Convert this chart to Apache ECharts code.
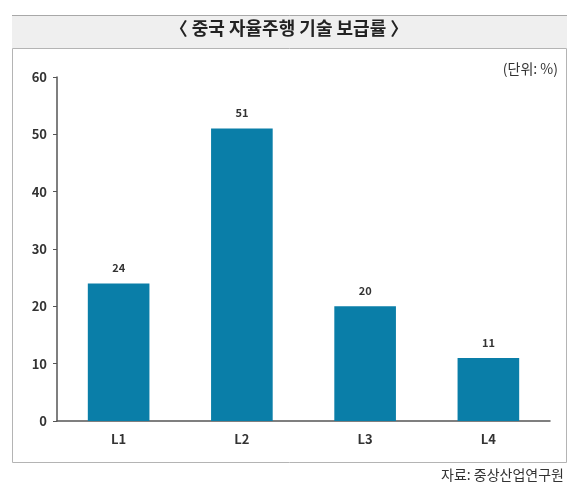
<!DOCTYPE html>
<html>
<head>
<meta charset="utf-8">
<script src="https://cdn.jsdelivr.net/npm/echarts@6/dist/echarts.min.js"></script>
<style>
  html, body { margin: 0; padding: 0; background: #fff; }
  #chart { width: 578px; height: 492px; }
</style>
</head>
<body>
<div id="chart"></div>
<script>
  // 데이터
  var levels = ['L1', 'L2', 'L3', 'L4'];
  var rates = [24, 51, 20, 11];
  var titleText = '〈 중국 자율주행 기술 보급률 〉';
  var unitText = '(단위: %)';
  var sourceText = '자료: 중상산업연구원';

  var font = '"Noto Sans CJK KR", "Noto Sans", sans-serif';
  var chart = echarts.init(document.getElementById('chart'));

  var option = {
    backgroundColor: '#fff',
    animation: false,
    textStyle: { fontFamily: font },
    graphic: [
      // 제목 배경 띠
      { type: 'rect', shape: { x: 12, y: 15, width: 555, height: 33 },
        style: { fill: '#efefef', stroke: null }, z: 0 },
      { type: 'line', shape: { x1: 12, y1: 15.5, x2: 567, y2: 15.5 },
        style: { stroke: '#a8a8a8', lineWidth: 1 } },
      // 차트 테두리
      { type: 'rect', shape: { x: 12.5, y: 48.5, width: 554, height: 414 },
        style: { fill: 'none', stroke: '#b4b4b4', lineWidth: 1 } },
      { type: 'text', left: 'center', top: 19,
        style: { text: titleText, font: 'bold 18px ' + font, fill: '#222' } },
      { type: 'text', right: 20, top: 62,
        style: { text: unitText, font: '14px ' + font, fill: '#333' } },
      { type: 'text', right: 14, top: 468,
        style: { text: sourceText, font: '14px ' + font, fill: '#333' } }
    ],
    grid: { left: 57, right: 28, top: 77, bottom: 71 },
    xAxis: {
      type: 'category',
      data: levels,
      axisLine: { lineStyle: { color: '#555', width: 1.5 } },
      axisTick: { show: false },
      axisLabel: { color: '#333', fontSize: 13, fontWeight: 'bold', margin: 12, fontFamily: font }
    },
    yAxis: {
      type: 'value',
      min: 0, max: 60, interval: 10,
      axisLine: { show: true, lineStyle: { color: '#555', width: 1.5 } },
      axisTick: { show: true, length: 4, lineStyle: { color: '#555' } },
      splitLine: { show: false },
      axisLabel: { color: '#333', fontSize: 13, fontWeight: 'bold', margin: 10, fontFamily: font }
    },
    series: [{
      type: 'bar',
      data: rates,
      barWidth: '50%',
      itemStyle: { color: '#0a7ea8' },
      label: {
        show: true,
        position: 'top',
        distance: 10,
        color: '#333',
        fontSize: 11,
        fontWeight: 'bold',
        fontFamily: font
      }
    }]
  };

  chart.setOption(option);
</script>
</body>
</html>
